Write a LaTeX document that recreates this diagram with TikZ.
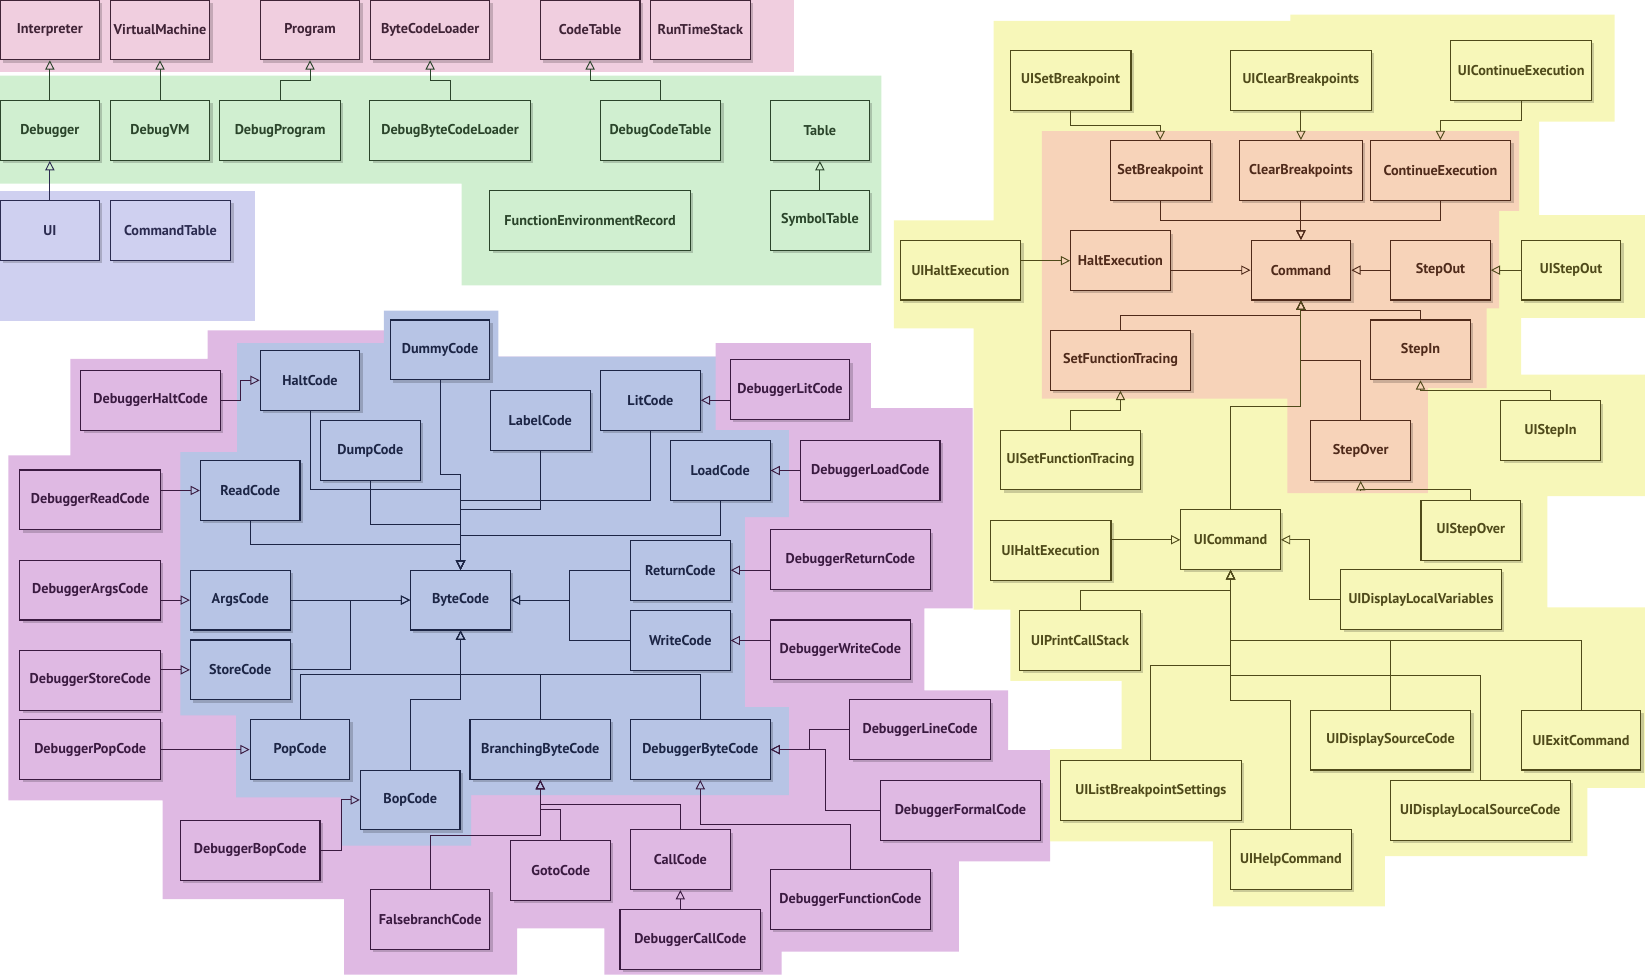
\documentclass[tikz,border=0pt]{standalone}
\usepackage{fontspec}
\setmainfont{PT Sans}
\usetikzlibrary{positioning, arrows.meta, shadows}
\definecolor{CoreBg}{HTML}{F0CEDF}
\definecolor{CoreLine}{HTML}{3F2336}
\definecolor{DebugBg}{HTML}{D0EFD0}
\definecolor{DebugLine}{HTML}{2A442A}
\definecolor{UiBg}{HTML}{CFD0F0}
\definecolor{UiLine}{HTML}{2B2B50}
\definecolor{CodeBg}{HTML}{B7C4E5}
\definecolor{CodeLine}{HTML}{1C2545}
\definecolor{DbgBg}{HTML}{DFB9E3}
\definecolor{DbgLine}{HTML}{3A1A40}
\definecolor{UiCmdBg}{HTML}{F7F7B9}
\definecolor{UiCmdLine}{HTML}{4F4A1A}
\definecolor{CmdBg}{HTML}{F7D3B9}
\definecolor{CmdLine}{HTML}{4F2A1A}
\tikzset{
    classbox/.style={rectangle, draw, line width=0.6pt, minimum height=1.14cm, inner sep=1pt, align=center,
        font=\bfseries\fontsize{7.7}{9}\selectfont,
        drop shadow={shadow xshift=1.5pt, shadow yshift=-1.5pt, draw=none, fill=black, opacity=0.18}},
    wd/.style={minimum width=#1*0.02cm},
    corebox/.style={classbox, fill=CoreBg, draw=CoreLine, text=CoreLine},
    debugbox/.style={classbox, fill=DebugBg, draw=DebugLine, text=DebugLine},
    uibox/.style={classbox, fill=UiBg, draw=UiLine, text=UiLine},
    codebox/.style={classbox, fill=CodeBg, draw=CodeLine, text=CodeLine},
    dbgbox/.style={classbox, fill=DbgBg, draw=DbgLine, text=DbgLine},
    uicmdbox/.style={classbox, fill=UiCmdBg, draw=UiCmdLine, text=UiCmdLine},
    cmdbox/.style={classbox, fill=CmdBg, draw=CmdLine, text=CmdLine},
    gen/.style={-{Triangle[open, length=5pt, width=5pt]}, line width=0.5pt, draw=#1},
    gen/.default=black,
}
\begin{document}
\begin{tikzpicture}[x=0.02cm, y=-0.02cm]
    \useasboundingbox (0,0) rectangle (1568,929);
    % Gruppi
    \fill[CoreBg] (0,0) rectangle (757,69);
    \fill[DebugBg] (0,72) -- (840,72) -- (840,272) -- (440,272) -- (440,175) -- (0,175) -- cycle;
    \fill[UiBg] (0,182) rectangle (243,306);
    \fill[DbgBg] (198,315) -- (366,315) -- (366,340) -- (682,340) -- (682,327) -- (830,327) -- (830,389)
        -- (927,389) -- (927,580) -- (881,580) -- (881,658) -- (961,658) -- (961,715) -- (1001,715)
        -- (1001,821) -- (914,821) -- (914,907) -- (745,907) -- (745,929) -- (576,929) -- (576,885)
        -- (493,885) -- (493,929) -- (328,929) -- (328,857) -- (155,857) -- (155,763) -- (8,763)
        -- (8,434) -- (67,434) -- (67,342) -- (198,342) -- cycle;
    \fill[CodeBg] (366,296) -- (475,296) -- (475,340) -- (682,340) -- (682,410) -- (752,410) -- (752,493)
        -- (710,493) -- (710,674) -- (752,674) -- (752,758) -- (449,758) -- (449,806) -- (325,806)
        -- (325,760) -- (225,760) -- (225,682) -- (172,682) -- (172,431) -- (226,431) -- (226,327)
        -- (366,327) -- cycle;
    \fill[UiCmdBg] (947,20) -- (1230,20) -- (1230,14) -- (1539,14) -- (1539,116) -- (1467,116) -- (1467,205)
        -- (1568,205) -- (1568,303) -- (1450,303) -- (1450,357) -- (1568,357) -- (1568,473) -- (1475,473)
        -- (1475,579) -- (1568,579) -- (1568,751) -- (1513,751) -- (1513,816) -- (1320,816) -- (1320,864)
        -- (1156,864) -- (1156,802) -- (1001,802) -- (1001,714) -- (1069,714) -- (1069,649) -- (963,649)
        -- (963,581) -- (928,581) -- (928,313) -- (852,313) -- (852,210) -- (947,210) -- cycle;
    \fill[CmdBg] (993,125) -- (1448,125) -- (1448,201) -- (1429,201) -- (1429,294) -- (1417,294) -- (1417,370)
        -- (1361,370) -- (1361,470) -- (1227,470) -- (1227,380) -- (993,380) -- cycle;

    % Nucleo
    \node[corebox, wd=95] (interp) at (47.5,28.5) {Interpreter};
    \node[corebox, wd=95] (vm) at (152.5,28.5) {VirtualMachine};
    \node[corebox, wd=95] (program) at (295.5,28.5) {Program};
    \node[corebox, wd=114] (bcloader) at (410,28.5) {ByteCodeLoader};
    \node[corebox, wd=95] (codetable) at (562.5,28.5) {CodeTable};
    \node[corebox, wd=95] (rtstack) at (667.5,28.5) {RunTimeStack};

    % Debugger
    \node[debugbox, wd=95] (debugger) at (47.5,124.5) {Debugger};
    \node[debugbox, wd=95] (debugvm) at (152.5,124.5) {DebugVM};
    \node[debugbox, wd=115] (debugprog) at (267,124.5) {DebugProgram};
    \node[debugbox, wd=153] (debugbcl) at (429,124.5) {DebugByteCodeLoader};
    \node[debugbox, wd=115] (debugct) at (629.5,124.5) {DebugCodeTable};
    \node[debugbox, wd=95] (table) at (781.5,124.5) {Table};
    \node[debugbox, wd=191] (fer) at (562.5,210) {FunctionEnvironmentRecord};
    \node[debugbox, wd=95] (symtable) at (781.5,210) {SymbolTable};
    \node[uibox, wd=95] (ui) at (47.5,219.5) {UI};
    \node[uibox, wd=115] (cmdtable) at (162.5,219.5) {CommandTable};

    \draw[gen=DebugLine] (debugger.north) -- (interp.south);
    \draw[gen=DebugLine] (debugvm.north) -- (vm.south);
    \draw[gen=DebugLine] (debugprog.north) |- (program.south |- 0,77) -- (program.south);
    \draw[gen=DebugLine] (debugbcl.north) |- (bcloader.south |- 0,77) -- (bcloader.south);
    \draw[gen=DebugLine] (debugct.north) |- (codetable.south |- 0,77) -- (codetable.south);
    \draw[gen=DebugLine] (symtable.north) -- (table.south);
    \draw[gen=UiLine] (ui.north) -- (debugger.south);

    % ByteCode
    \node[codebox, wd=95] (dummy) at (419.5,333.5) {DummyCode};
    \node[codebox, wd=95] (haltcode) at (295.5,362.5) {HaltCode};
    \node[codebox, wd=95] (litcode) at (620,381.5) {LitCode};
    \node[codebox, wd=95] (labelcode) at (515,400.5) {LabelCode};
    \node[codebox, wd=95] (dumpcode) at (353,429.5) {DumpCode};
    \node[codebox, wd=95] (loadcode) at (686.5,448.5) {LoadCode};
    \node[codebox, wd=95] (readcode) at (238.5,467.5) {ReadCode};
    \node[codebox, wd=95] (returncode) at (648.5,543.5) {ReturnCode};
    \node[codebox, wd=95] (bytecode) at (439,572) {ByteCode};
    \node[codebox, wd=95] (argscode) at (229,572) {ArgsCode};
    \node[codebox, wd=95] (writecode) at (648.5,610.5) {WriteCode};
    \node[codebox, wd=95] (storecode) at (229,638.5) {StoreCode};
    \node[codebox, wd=95] (popcode) at (286,714.5) {PopCode};
    \node[codebox, wd=134] (branching) at (515,714.5) {BranchingByteCode};
    \node[codebox, wd=133] (dbgbytecode) at (667.5,714.5) {DebuggerByteCode};
    \node[codebox, wd=95] (bopcode) at (391,762.5) {BopCode};

    \node[dbgbox, wd=133] (dbghalt) at (143.5,381.5) {DebuggerHaltCode};
    \node[dbgbox, wd=114] (dbglit) at (753,371.5) {DebuggerLitCode};
    \node[dbgbox, wd=133] (dbgload) at (829.5,448.5) {DebuggerLoadCode};
    \node[dbgbox, wd=134] (dbgread) at (86,476.5) {DebuggerReadCode};
    \node[dbgbox, wd=153] (dbgreturn) at (810.5,533.5) {DebuggerReturnCode};
    \node[dbgbox, wd=134] (dbgargs) at (86,562.5) {DebuggerArgsCode};
    \node[dbgbox, wd=134] (dbgwrite) at (801,619.5) {DebuggerWriteCode};
    \node[dbgbox, wd=134] (dbgstore) at (86,648.5) {DebuggerStoreCode};
    \node[dbgbox, wd=134] (dbgpop) at (86,714.5) {DebuggerPopCode};
    \node[dbgbox, wd=134] (dbgline) at (877,695.5) {DebuggerLineCode};
    \node[dbgbox, wd=153] (dbgformal) at (915.5,772.5) {DebuggerFormalCode};
    \node[dbgbox, wd=133] (dbgbop) at (238.5,810.5) {DebuggerBopCode};
    \node[dbgbox, wd=95] (gotocode) at (534.5,829.5) {GotoCode};
    \node[dbgbox, wd=95] (callcode) at (648.5,819.5) {CallCode};
    \node[dbgbox, wd=153] (dbgfunc) at (810.5,857.5) {DebuggerFunctionCode};
    \node[dbgbox, wd=114] (falsebranch) at (410,876.5) {FalsebranchCode};
    \node[dbgbox, wd=134] (dbgcall) at (658,895.5) {DebuggerCallCode};

    \draw[gen=CodeLine] (dummy.south) |- (bytecode.north |- 0,452) -- (bytecode.north);
    \draw[gen=CodeLine] (haltcode.south) |- (bytecode.north |- 0,467) -- (bytecode.north);
    \draw[gen=CodeLine] (litcode.south) |- (bytecode.north |- 0,477) -- (bytecode.north);
    \draw[gen=CodeLine] (labelcode.south) |- (bytecode.north |- 0,486) -- (bytecode.north);
    \draw[gen=CodeLine] (dumpcode.south) |- (bytecode.north |- 0,500) -- (bytecode.north);
    \draw[gen=CodeLine] (loadcode.south) |- (bytecode.north |- 0,510) -- (bytecode.north);
    \draw[gen=CodeLine] (readcode.south) |- (bytecode.north |- 0,519) -- (bytecode.north);
    \draw[gen=CodeLine] (argscode.east) -- (bytecode.west);
    \draw[gen=CodeLine] (storecode.east) -- ++(57,0) |- (bytecode.west);
    \draw[gen=CodeLine] (returncode.west) -- ++(-58,0) |- (bytecode.east);
    \draw[gen=CodeLine] (writecode.west) -- ++(-58,0) |- (bytecode.east);
    \draw[gen=CodeLine] (popcode.north) |- (bytecode.south |- 0,643) -- (bytecode.south);
    \draw[gen=CodeLine] (branching.north) |- (bytecode.south |- 0,643) -- (bytecode.south);
    \draw[gen=CodeLine] (dbgbytecode.north) |- (bytecode.south |- 0,643) -- (bytecode.south);
    \draw[gen=CodeLine] (bopcode.north) |- (bytecode.south |- 0,667) -- (bytecode.south);

    \draw[gen=DbgLine] (dbghalt.east) -- ++(19,0) |- (haltcode.west);
    \draw[gen=DbgLine] (dbgread.east |- readcode.west) -- (readcode.west);
    \draw[gen=DbgLine] (dbglit.west |- litcode.east) -- (litcode.east);
    \draw[gen=DbgLine] (dbgload.west) -- (loadcode.east);
    \draw[gen=DbgLine] (dbgreturn.west |- returncode.east) -- (returncode.east);
    \draw[gen=DbgLine] (dbgwrite.west |- writecode.east) -- (writecode.east);
    \draw[gen=DbgLine] (dbgargs.east |- argscode.west) -- (argscode.west);
    \draw[gen=DbgLine] (dbgstore.east |- storecode.west) -- (storecode.west);
    \draw[gen=DbgLine] (dbgpop.east) -- (popcode.west);
    \draw[gen=DbgLine] (dbgbop.east) -- ++(20,0) |- (bopcode.west);
    \draw[gen=DbgLine] (dbgline.west) -- ++(-38,0) |- (dbgbytecode.east);
    \draw[gen=DbgLine] (dbgformal.west) -- ++(-52,0) |- (dbgbytecode.east);
    \draw[gen=DbgLine] (gotocode.north) |- (branching.south |- 0,772) -- (branching.south);
    \draw[gen=DbgLine] (callcode.north) |- (branching.south |- 0,767) -- (branching.south);
    \draw[gen=DbgLine] (falsebranch.north) |- (branching.south |- 0,796) -- (branching.south);
    \draw[gen=DbgLine] (dbgfunc.north) |- (dbgbytecode.south |- 0,786) -- (dbgbytecode.south);
    \draw[gen=DbgLine] (dbgcall.north -| callcode.south) -- (callcode.south);

    % Comandi
    \node[uicmdbox, wd=115] (uisetbp) at (1020.5,76.5) {UISetBreakpoint};
    \node[uicmdbox, wd=134] (uiclearbp) at (1240,76.5) {UIClearBreakpoints};
    \node[uicmdbox, wd=134] (uicontexec) at (1450,67) {UIContinueExecution};
    \node[cmdbox, wd=95] (setbp) at (1106,162.5) {SetBreakpoint};
    \node[cmdbox, wd=117] (clearbp) at (1240,162.5) {ClearBreakpoints};
    \node[cmdbox, wd=134] (contexec) at (1373,162.5) {ContinueExecution};
    \node[uicmdbox, wd=115] (uihalt) at (915.5,257.5) {UIHaltExecution};
    \node[cmdbox, wd=95] (halt) at (1068,248.5) {HaltExecution};
    \node[cmdbox, wd=95] (command) at (1240,257.5) {Command};
    \node[cmdbox, wd=95] (stepout) at (1373,257.5) {StepOut};
    \node[uicmdbox, wd=95] (uistepout) at (1497.5,257.5) {UIStepOut};
    \node[cmdbox, wd=134] (setft) at (1068,343.5) {SetFunctionTracing};
    \node[cmdbox, wd=95] (stepin) at (1354,333.5) {StepIn};
    \node[uicmdbox, wd=95] (uistepin) at (1478,410.5) {UIStepIn};
    \node[cmdbox, wd=95] (stepover) at (1297,429.5) {StepOver};
    \node[uicmdbox, wd=133] (uisetft) at (1020.5,438.5) {UISetFunctionTracing};
    \node[uicmdbox, wd=95] (uistepover) at (1402,505.5) {UIStepOver};
    \node[uicmdbox, wd=115] (uihaltb) at (1001.5,524.5) {UIHaltExecution};
    \node[uicmdbox, wd=95] (uicommand) at (1173,514.5) {UICommand};
    \node[uicmdbox, wd=153] (uidispvars) at (1354.5,571.5) {UIDisplayLocalVariables};
    \node[uicmdbox, wd=115] (uiprintcs) at (1029.5,610.5) {UIPrintCallStack};
    \node[uicmdbox, wd=153] (uidispsrc) at (1325.5,705.5) {UIDisplaySourceCode};
    \node[uicmdbox, wd=114] (uiexit) at (1507,705.5) {UIExitCommand};
    \node[uicmdbox, wd=172] (uilistbp) at (1097,753.5) {UIListBreakpointSettings};
    \node[uicmdbox, wd=172] (uidisplocsrc) at (1411,772.5) {UIDisplayLocalSourceCode};
    \node[uicmdbox, wd=115] (uihelp) at (1230.5,819.5) {UIHelpCommand};

    \draw[gen=UiCmdLine] (uisetbp.south) |- (setbp.north |- 0,120) -- (setbp.north);
    \draw[gen=UiCmdLine] (uiclearbp.south) -- (clearbp.north);
    \draw[gen=UiCmdLine] (uicontexec.south) |- (contexec.north |- 0,115) -- (contexec.north);
    \draw[gen=CmdLine] (setbp.south) |- (command.north |- 0,210) -- (command.north);
    \draw[gen=CmdLine] (contexec.south) |- (command.north |- 0,210) -- (command.north);
    \draw[gen=CmdLine] (clearbp.south) -- (command.north);
    \draw[gen=UiCmdLine] (uihalt.east |- halt.west) -- (halt.west);
    \draw[gen=CmdLine] (halt.east |- command.west) -- (command.west);
    \draw[gen=CmdLine] (stepout.west) -- (command.east);
    \draw[gen=UiCmdLine] (uistepout.west) -- (stepout.east);
    \draw[gen=CmdLine] (setft.north) |- (command.south |- 0,301) -- (command.south);
    \draw[gen=CmdLine] (stepin.north) |- (command.south |- 0,296) -- (command.south);
    \draw[gen=CmdLine] (stepover.north) |- (command.south |- 0,344) -- (command.south);
    \draw[gen=UiCmdLine] (uicommand.north) |- (command.south |- 0,387) -- (command.south);
    \draw[gen=UiCmdLine] (uisetft.north) |- (setft.south |- 0,391) -- (setft.south);
    \draw[gen=UiCmdLine] (uistepin.north) |- (stepin.south |- 0,372) -- (stepin.south);
    \draw[gen=UiCmdLine] (uistepover.north) |- (stepover.south |- 0,467) -- (stepover.south);
    \draw[gen=UiCmdLine] (uihaltb.east |- uicommand.west) -- (uicommand.west);
    \draw[gen=UiCmdLine] (uidispvars.west) -- ++(-29,0) |- (uicommand.east);
    \draw[gen=UiCmdLine] (uiprintcs.north) |- (uicommand.south |- 0,563) -- (uicommand.south);
    \draw[gen=UiCmdLine] (uidispsrc.north) |- (uicommand.south |- 0,610) -- (uicommand.south);
    \draw[gen=UiCmdLine] (uiexit.north) |- (uicommand.south |- 0,610) -- (uicommand.south);
    \draw[gen=UiCmdLine] (uilistbp.north) |- (uicommand.south |- 0,634) -- (uicommand.south);
    \draw[gen=UiCmdLine] (uidisplocsrc.north) |- (uicommand.south |- 0,644) -- (uicommand.south);
    \draw[gen=UiCmdLine] (uihelp.north) |- (uicommand.south |- 0,668) -- (uicommand.south);
\end{tikzpicture}
\end{document}
